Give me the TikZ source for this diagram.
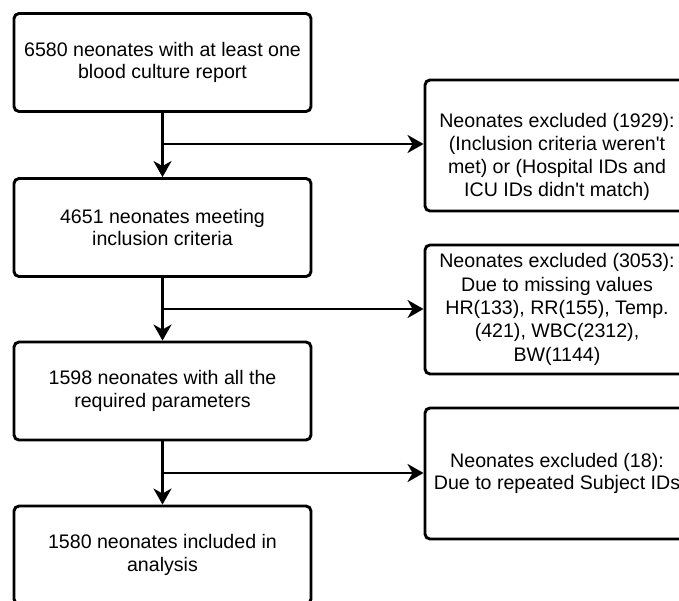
\documentclass[tikz,border=0pt]{standalone}
\usepackage{fontspec}
\setmainfont{Liberation Sans}
\usetikzlibrary{arrows.meta}
\begin{document}
\begin{tikzpicture}[x=1pt,y=-1pt,
  box/.style={draw=black, line width=2.9pt, rounded corners=5pt, fill=white,
    align=center, inner sep=0pt, font=\fontsize{19.6}{22.6}\selectfont},
  lbox/.style={box, minimum width=297pt, minimum height=98pt},
  rbox/.style={box, minimum width=264pt, minimum height=130pt},
  txt/.style={align=center, inner sep=0pt, font=\fontsize{19.6}{23.2}\selectfont},
  flow/.style={line width=2.9pt, -{Stealth[length=16pt,width=18pt,inset=5pt]}}]
\clip (0,0) rectangle (679,600);
\fill[white] (0,0) rectangle (679,600);
% left column
\node[lbox] (b1) at (162.5,62.5) {6580 neonates with at least one\\blood culture report};
\node[lbox] (b2) at (162.5,227.5) {4651 neonates meeting\\inclusion criteria};
\node[lbox] (b3) at (162.5,391) {1598 neonates with all the\\required parameters};
\node[lbox] (b4) at (162.5,555) {1580 neonates included in\\analysis};
% right column
\node[rbox, minimum height=131pt] (r1) at (557,145.5) {};
\node[txt] (r1t) at (557,157) {Neonates excluded (1929):\\(Inclusion criteria weren\textquotesingle t\\met) or (Hospital IDs and\\ICU IDs didn\textquotesingle t match)};
\node[rbox, minimum height=129pt, font=\fontsize{19.6}{23.3}\selectfont] (r2) at (557,309.5) {Neonates excluded (3053):\\Due to missing values\\HR(133), RR(155), Temp.\\(421), WBC(2312),\\BW(1144)};
\node[rbox, minimum height=131pt] (r3) at (557,473.5) {Neonates excluded (18):\\Due to repeated Subject IDs};
% junctions
\coordinate (j1) at (162.5,144);
\coordinate (j2) at (162.5,309);
\coordinate (j3) at (162.5,473);
% connectors
\draw[flow] (b1) -- (b2);
\draw[flow] (b2) -- (b3);
\draw[flow] (b3) -- (b4);
\draw[flow] (j1) -- (j1 -| r1.west);
\draw[flow] (j2) -- (j2 -| r2.west);
\draw[flow] (j3) -- (j3 -| r3.west);
\end{tikzpicture}
\end{document}
